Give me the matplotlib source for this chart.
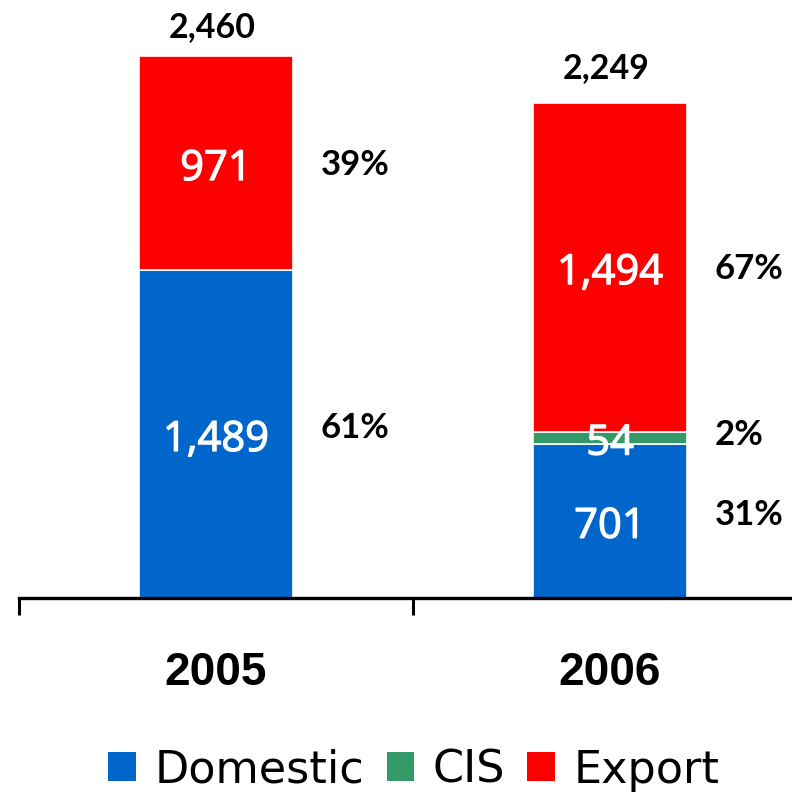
import matplotlib
matplotlib.use("Agg")
import matplotlib.pyplot as plt
import matplotlib.patheffects as pe
from matplotlib.patches import Patch

years = ["2005", "2006"]
domestic = [1489, 701]
cis = [0, 54]
export = [971, 1494]
totals = [2460, 2249]
pct_domestic = ["61%", "31%"]
pct_cis = ["", "2%"]
pct_export = ["39%", "67%"]

c_dom = "#0066CC"
c_cis = "#339966"
c_exp = "#FF0000"

W, H = 792, 794
fig = plt.figure(figsize=(W / 100, H / 100), dpi=100)
ax = fig.add_axes([19 / W, (H - 598) / H, 788 / W, 594.8 / H])
ax.set_xlim(-0.5, 1.5)
ax.set_ylim(0, 2700)

x = list(range(len(years)))
bw = 0.393
ax.bar(x, domestic, bw, color=c_dom, edgecolor="white", linewidth=1.2)
ax.bar(x, cis, bw, bottom=domestic, color=c_cis, edgecolor="white", linewidth=1.2)
bottom2 = [d + c for d, c in zip(domestic, cis)]
ax.bar(x, export, bw, bottom=bottom2, color=c_exp, edgecolor="white", linewidth=1.2)

inner_font = dict(family=["Open Sans", "DejaVu Sans"], fontsize=30, color="white",
                  path_effects=[pe.withStroke(linewidth=0.9, foreground="white")])
pct_font = dict(family=["Lato", "DejaVu Sans"], fontsize=25, fontweight="bold",
                color="black")
pct_up = [8, 5, 1]  # pixel lift of percent labels per series

for i in x:
    segs = [(0, domestic[i], pct_domestic[i]),
            (domestic[i], cis[i], pct_cis[i]),
            (bottom2[i], export[i], pct_export[i])]
    for k, (b, v, p) in enumerate(segs):
        if v <= 0:
            continue
        yc = b + v / 2
        ax.annotate(f"{v:,}", (i, yc), xytext=(0, -17), textcoords="offset pixels",
                    ha="center", va="baseline", **inner_font)
        ax.annotate(p, (i + 0.265, yc), xytext=(0, -12.5 + pct_up[k]),
                    textcoords="offset pixels", ha="left", va="baseline", **pct_font)

total_offsets = [19, 25]
for i in x:
    ax.annotate(f"{totals[i]:,}", (i - 0.01, totals[i]), xytext=(0, total_offsets[i]),
                textcoords="offset pixels", ha="center", va="baseline",
                family=["Lato", "DejaVu Sans"], fontweight="bold",
                fontsize=24.5, color="black")

for s in ["top", "left", "right"]:
    ax.spines[s].set_visible(False)
ax.spines["bottom"].set_linewidth(2.4)
ax.set_yticks([])
ax.set_xticks([-0.5, 0.5, 1.5])
ax.set_xticklabels([])
ax.tick_params(axis="x", direction="out", length=12, width=2.2, color="black")

for i in x:
    ax.text(i, -0.126, years[i], transform=ax.get_xaxis_transform(),
            ha="center", va="center", family=["Liberation Sans", "DejaVu Sans"],
            fontweight="bold", fontsize=33, color="black")

handles = [Patch(facecolor=c_dom, label="Domestic"),
           Patch(facecolor=c_cis, label="CIS"),
           Patch(facecolor=c_exp, label="Export")]
fig.legend(handles=handles, loc="center", bbox_to_anchor=(414 / W, 1 - 770 / H),
           ncol=3, frameon=False, prop=dict(family="DejaVu Sans", size=32),
           handlelength=0.62, handleheight=0.62, handletextpad=0.42,
           columnspacing=0.5, borderpad=0, borderaxespad=0)

fig.savefig("out.png", dpi=100)
